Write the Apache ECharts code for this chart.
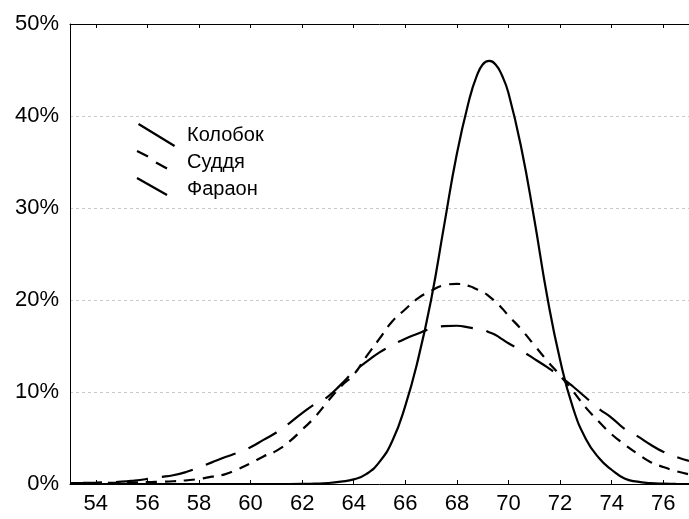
<!DOCTYPE html>
<html>
<head>
<meta charset="utf-8">
<script src="https://cdn.jsdelivr.net/npm/echarts@6/dist/echarts.min.js"></script>
<style>html,body{margin:0;padding:0;background:#fff}#c{width:689px;height:519px}</style>
</head>
<body>
<div id="c"></div>
<script>
const xs = [53,53.5,54,54.5,55,55.5,56,56.5,57,57.5,58,58.5,59,59.5,60,60.5,61,61.5,62,62.5,63,63.5,64,64.5,65,65.5,66,66.5,67,67.5,68,68.5,68.75,69,69.25,69.5,69.75,70,70.5,71,71.5,72,72.5,73,73.5,74,74.5,75,75.5,76,76.5,77];
const kolobok = [0,0,0,0,0,0,0,0,0,0,0,0,0,0,0,0,0,0,0.01,0.04,0.1,0.25,0.5,1.1,2.4,4.7,8.5,13.6,20.0,28.0,35.9,42.0,44.2,45.6,46.0,45.6,44.4,42.5,36.5,28.8,20.4,13.5,8.3,4.9,2.85,1.55,0.6,0.25,0.1,0.04,0.02,0];
const suddya = [0.05,0.07,0.1,0.12,0.15,0.18,0.2,0.25,0.3,0.4,0.55,0.8,1.05,1.6,2.25,3.0,3.6,4.6,5.9,7.3,9.0,10.6,11.9,13.9,15.8,17.7,19.0,20.2,21.0,21.6,21.75,21.5,21.2,20.9,20.4,19.8,19.1,18.3,16.8,15.1,13.4,11.8,10.1,8.3,6.8,5.4,4.3,3.3,2.4,1.85,1.4,1.05];
const faraon = [0.1,0.12,0.15,0.2,0.25,0.38,0.55,0.75,0.95,1.3,1.8,2.35,2.9,3.4,4.0,4.8,5.6,6.6,7.7,8.7,9.5,10.8,12.2,13.3,14.3,15.1,15.8,16.35,16.9,17.15,17.2,17.0,16.9,16.8,16.5,16.2,15.75,15.3,14.5,13.6,12.7,11.7,10.6,9.4,8.2,7.2,6.0,5.2,4.3,3.5,2.95,2.5];
const seriesNames = ['Колобок','Суддя','Фараон'];
const xTicks = [54,56,58,60,62,64,66,68,70,72,74,76];
const yMin = 0, yMax = 50, yStep = 10;
const xMin = 53, xMax = 77;

function seg(x1,y1,x2,y2,w){
  const dx=x2-x1, dy=y2-y1, L=Math.hypot(dx,dy);
  const nx=-dy/L*w/2, ny=dx/L*w/2;
  return `M${x1+nx},${y1+ny}L${x2+nx},${y2+ny}L${x2-nx},${y2-ny}L${x1-nx},${y1-ny}Z`;
}
const box = 'M0,0L0.01,0L0.01,0.01ZM46,24L45.99,24L45.99,23.99Z';
const icons = [
  'path://' + seg(2,0.8,39,23.5,2.3) + box,
  'path://' + seg(1,1,12,6.5,2.3) + seg(20,12.5,31,18.5,2.3) + box,
  'path://' + seg(1,1,31,18,2.3) + box
];
const pairs = arr => xs.map((x,i)=>[x,arr[i]]);
const font = "'Liberation Sans', Arial, sans-serif";

const chart = echarts.init(document.getElementById('c'), null, {renderer:'canvas'});
chart.setOption({
  animation:false,
  backgroundColor:'#fff',
  grid:{left:70,right:-7,top:24,bottom:35,containLabel:false},
  legend:{
    orient:'vertical', left:131, top:118, itemWidth:46, itemHeight:24, itemGap:3,
    textStyle:{fontFamily:font,fontSize:20,color:'#000'},
    itemStyle:{color:'#000',borderWidth:0},
    data: seriesNames.map((n,i)=>({name:n, icon:icons[i]}))
  },
  xAxis:[{
    type:'value', min:xMin, max:xMax, position:'bottom',
    axisLine:{show:true,onZero:false,lineStyle:{color:'#000',width:1}},
    axisTick:{show:true,inside:true,length:4,customValues:xTicks,lineStyle:{color:'#000'}},
    axisLabel:{customValues:xTicks,fontFamily:font,fontSize:22,color:'#000',margin:9},
    splitLine:{show:false}
  },{
    type:'value', min:xMin, max:xMax, position:'top',
    axisLine:{show:true,onZero:false,lineStyle:{color:'#000',width:1}},
    axisTick:{show:true,inside:true,length:4,customValues:xTicks,lineStyle:{color:'#000'}},
    axisLabel:{show:false},
    splitLine:{show:false}
  }],
  yAxis:{
    type:'value', min:yMin, max:yMax, interval:yStep,
    axisLine:{show:true,lineStyle:{color:'#000',width:1}},
    axisTick:{show:false},
    axisLabel:{formatter:'{value}%',fontFamily:font,fontSize:22,color:'#000',margin:11},
    splitLine:{show:true,lineStyle:{color:'#c8c8c8',type:[3,3],width:1}}
  },
  series:[
    {name:seriesNames[0],type:'line',data:pairs(kolobok),showSymbol:false,smooth:0.5,
     lineStyle:{color:'#000',width:2.2},itemStyle:{color:'#000'}},
    {name:seriesNames[1],type:'line',data:pairs(suddya),showSymbol:false,smooth:0.5,
     lineStyle:{color:'#000',width:2.2,type:[11,8]},itemStyle:{color:'#000'}},
    {name:seriesNames[2],type:'line',data:pairs(faraon),showSymbol:false,smooth:0.5,
     lineStyle:{color:'#000',width:2.2,type:[32,14]},itemStyle:{color:'#000'}}
  ]
});
</script>
</body>
</html>
